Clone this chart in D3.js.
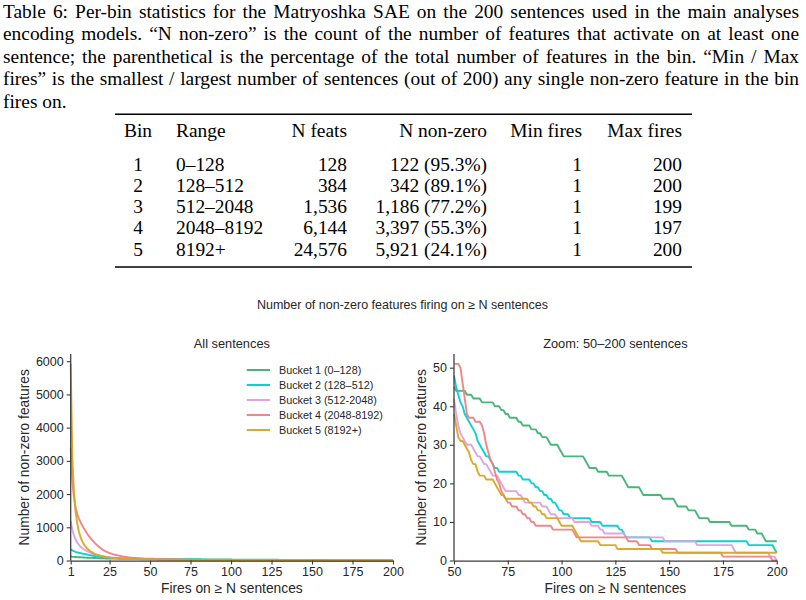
<!DOCTYPE html>
<html lang="en">
<head>
<meta charset="UTF-8">
<title>Per-bin statistics, Matryoshka SAE</title>
<script src="https://d3js.org/d3.v7.min.js"></script>
<style>
  body { margin: 0; background: #fff; }
  .serif text { font-family: "Liberation Serif", "Times New Roman", serif; fill: #000; }
  .chart text { font-family: "Liberation Sans", Arial, Helvetica, sans-serif; fill: #262626; }
</style>
</head>
<body>
<script>
// ---------- caption + table ----------
const captionLines = [
  "Table 6: Per-bin statistics for the Matryoshka SAE on the 200 sentences used in the main analyses",
  "encoding models. \u201CN non-zero\u201D is the count of the number of features that activate on at least one",
  "sentence; the parenthetical is the percentage of the total number of features in the bin. \u201CMin / Max",
  "fires\u201D is the smallest / largest number of sentences (out of 200) any single non-zero feature in the bin",
  "fires on."
];
const tableHeader = ["Bin", "Range", "N feats", "N non-zero", "Min fires", "Max fires"];
const bins      = ["1", "2", "3", "4", "5"];
const ranges    = ["0\u2013128", "128\u2013512", "512\u20132048", "2048\u20138192", "8192+"];
const nFeats    = ["128", "384", "1,536", "6,144", "24,576"];
const nNonZero  = ["122 (95.3%)", "342 (89.1%)", "1,186 (77.2%)", "3,397 (55.3%)", "5,921 (24.1%)"];
const minFires  = ["1", "1", "1", "1", "1"];
const maxFires  = ["200", "200", "199", "197", "200"];

// ---------- chart data: features firing on >= N sentences, N = 1..200 ----------
const bucketNames = ["Bucket 1 (0\u2013128)", "Bucket 2 (128\u2013512)", "Bucket 3 (512-2048)",
                     "Bucket 4 (2048-8192)", "Bucket 5 (8192+)"];
const bucketColors = ["#3cb371", "#00ced1", "#dda0dd", "#f08080", "#daa520"];

const bucket1 = [
  122,115,110,106,102,99,96,93,90,87,      // 1-10
  85,82,80,78,76,74,72,70,68,67,
  65,64,62,61,60,59,58,57,56,55,
  54,53,52,52,51,50,50,49,49,48,
  48,47,47,47,46,46,46,45,45,45,           // 41-50
  44,44,44,44,44,43,43,43,42,42,
  42,42,41,41,41,41,41,41,40,40,
  40,39,39,38,38,37,37,37,37,36,
  36,35,35,35,35,34,34,34,33,33,
  32,32,32,31,30,30,30,30,29,28,           // 91-100
  27,27,27,27,27,27,27,27,27,27,
  26,25,24,24,24,24,23,23,23,23,
  23,22,22,22,22,22,22,22,21,20,
  19,19,19,19,19,19,18,17,17,17,
  17,17,17,17,17,17,16,16,16,16,           // 141-150
  16,16,15,14,14,14,14,14,13,13,
  13,13,12,11,11,11,11,11,10,10,
  10,10,10,10,10,10,10,10,9,9,
  9,9,9,9,9,9,8,8,8,8,
  7,7,7,6,5,5,5,5,5,5                      // 191-200
];
const bucket2 = [
  342,305,280,262,247,233,221,210,200,190,
  180,170,160,151,142,134,126,118,111,105,
  99,94,89,85,81,78,75,72,70,68,
  66,64,62,61,60,59,58,57,56,55,
  54,53,52,52,51,50,50,49,49,48,
  45,43,41,40,38,37,36,35,34,33,
  31,30,29,28,27,27,26,25,24,24,
  23,23,23,23,23,23,23,23,23,22,
  22,21,21,21,21,20,20,19,19,18,
  18,17,17,16,16,15,15,14,13,13,
  12,12,12,11,11,11,11,11,11,11,
  11,11,11,10,10,10,10,10,9,9,
  9,9,9,9,9,9,8,8,7,6,
  6,6,6,6,6,6,6,6,6,6,
  6,5,5,5,5,5,5,5,5,5,
  5,5,5,5,5,5,5,5,5,5,
  5,5,5,5,5,5,5,5,5,5,
  5,5,5,5,5,5,5,5,5,5,
  5,5,5,5,5,5,4,4,4,4,
  4,4,4,4,4,4,4,4,3,2
];
const bucket3 = [
  1186,920,760,640,545,475,420,375,340,310,
  283,260,240,220,203,188,174,161,150,139,
  129,120,112,105,99,93,88,83,79,75,
  71,68,65,62,60,58,56,54,52,51,
  50,49,48,47,46,45,44,43,43,42,
  38,35,33,32,31,30,30,30,29,28,
  27,27,26,25,25,24,23,22,22,22,
  21,20,19,18,18,18,18,18,18,17,
  17,16,15,15,15,15,15,15,15,15,
  14,14,14,13,12,12,12,11,11,11,
  11,11,11,11,11,10,10,10,10,10,
  10,10,10,9,9,9,9,8,8,7,
  7,7,7,7,7,7,7,7,7,6,
  6,6,6,6,6,6,6,6,6,6,
  6,6,6,6,6,6,6,5,5,5,
  5,5,5,5,5,5,5,5,5,5,
  5,5,4,4,4,4,4,4,4,4,
  4,4,4,4,4,4,4,4,4,3,
  2,2,2,2,2,2,2,2,2,2,
  2,2,2,2,2,2,1,1,1,0
];
const bucket4 = [
  3397,2400,1900,1600,1400,1270,1160,1070,980,900,
  820,750,690,630,575,520,475,430,390,355,
  320,290,265,243,225,208,192,178,165,153,
  142,132,123,115,107,100,94,88,83,78,
  74,70,66,63,60,58,56,54,52,51,
  51,51,50,46,42,38,37,37,37,36,
  36,36,35,33,30,28,26,25,23,21,
  20,18,17,16,15,15,14,14,14,13,
  13,12,12,11,11,10,10,9,9,9,
  9,9,9,9,9,8,8,8,8,8,
  8,8,8,8,8,7,6,6,6,6,
  6,6,6,6,6,6,6,6,6,6,
  6,6,6,6,6,6,6,6,6,6,
  5,5,5,5,5,4,4,4,4,4,
  4,3,3,3,3,3,3,3,3,3,
  3,3,3,2,2,2,2,2,2,2,
  2,2,2,2,2,2,2,2,2,2,
  2,2,2,2,1,1,1,1,1,1,
  1,1,1,1,1,1,1,1,1,1,
  1,1,1,1,1,1,1,0,0,0
];
const bucket5 = [
  5921,3150,2050,1480,1130,880,720,590,500,430,
  370,325,285,250,222,198,178,160,145,132,
  120,110,101,93,86,80,75,70,66,62,
  59,56,53,51,49,47,46,44,43,42,
  41,40,40,39,39,38,38,38,38,38,
  35,32,31,31,30,29,28,26,25,25,
  23,22,22,22,21,21,21,21,20,19,
  18,17,17,16,16,16,16,16,16,16,
  16,16,16,16,15,15,14,14,13,13,
  12,12,11,11,11,11,11,11,10,9,
  9,9,9,9,9,8,7,6,5,5,
  5,5,5,5,5,5,5,4,4,4,
  4,4,4,4,4,3,3,3,3,3,
  3,3,3,3,3,3,3,3,3,3,
  3,3,3,3,3,3,2,2,2,2,
  2,2,2,2,2,2,2,2,2,2,
  2,2,2,2,2,2,2,2,2,2,
  2,2,2,2,2,2,2,2,2,2,
  2,2,2,2,2,2,2,2,2,2,
  2,2,2,2,2,2,2,2,2,2
];
const buckets = [bucket1, bucket2, bucket3, bucket4, bucket5];

const xTicksAll = [1, 25, 50, 75, 100, 125, 150, 175, 200];
const yTicksAll = [0, 1000, 2000, 3000, 4000, 5000, 6000];
const xTicksZoom = [50, 75, 100, 125, 150, 175, 200];
const yTicksZoom = [0, 10, 20, 30, 40, 50];

// ---------- svg ----------
const W = 806, H = 600;
const svg = d3.select("body").append("svg")
  .attr("width", W).attr("height", H)
  .attr("viewBox", `0 0 ${W} ${H}`);

// ---------- caption (justified) ----------
const cap = svg.append("g").attr("class", "serif");
const capX0 = 3, capX1 = 799, capSize = 19.4;
captionLines.forEach((line, li) => {
  const yy = 17.7 + li * 22.5;
  const words = line.split(" ");
  const nodes = words.map(w => cap.append("text")
    .attr("y", yy).attr("font-size", capSize).text(w));
  const widths = nodes.map(n => n.node().getComputedTextLength());
  const total = d3.sum(widths);
  const last = li === captionLines.length - 1;
  const gap = last ? capSize * 0.25 : (capX1 - capX0 - total) / (words.length - 1);
  let cx = capX0;
  nodes.forEach((n, i) => { n.attr("x", cx); cx += widths[i] + gap; });
});

// ---------- table ----------
const tbl = svg.append("g").attr("class", "serif");
const tblSize = 19.4;
// column anchor x and alignment
const cols = [
  {x: 138, anchor: "middle", vals: bins},
  {x: 176, anchor: "start",  vals: ranges},
  {x: 347, anchor: "end",    vals: nFeats},
  {x: 487, anchor: "end",    vals: nNonZero},
  {x: 582, anchor: "end",    vals: minFires},
  {x: 682, anchor: "end",    vals: maxFires}
];
tbl.append("line").attr("x1", 115).attr("x2", 692).attr("y1", 114.3).attr("y2", 114.3)
  .attr("stroke", "#000").attr("stroke-width", 1.4);
tbl.append("line").attr("x1", 115).attr("x2", 692).attr("y1", 267).attr("y2", 267)
  .attr("stroke", "#000").attr("stroke-width", 1.4);
cols.forEach((c, ci) => {
  tbl.append("text").attr("x", c.x).attr("y", 137.3)
    .attr("text-anchor", c.anchor).attr("font-size", tblSize).text(tableHeader[ci]);
  c.vals.forEach((v, ri) => {
    tbl.append("text").attr("x", c.x).attr("y", 170.7 + ri * 21.25)
      .attr("text-anchor", c.anchor).attr("font-size", tblSize).text(v);
  });
});

// ---------- charts ----------
const chart = svg.append("g").attr("class", "chart");
const plotTop = 354, plotBottom = 560.5;

chart.append("text").attr("x", 402.5).attr("y", 309)
  .attr("text-anchor", "middle").attr("font-size", 12.5)
  .text("Number of non-zero features firing on \u2265 N sentences");

function panel(opts) {
  const x = d3.scaleLinear().domain(opts.xDomain).range([opts.left, opts.right]);
  const y = d3.scaleLinear().domain(opts.yDomain).range([plotBottom, plotTop]);
  const g = chart.append("g");

  const line = d3.line()
    .x(d => x(d[0]))
    .y(d => y(d[1]));

  buckets.forEach((b, bi) => {
    const pts = b.map((v, i) => [i + 1, v]).filter(d => d[0] >= opts.xDomain[0]);
    g.append("path")
      .attr("d", line(pts))
      .attr("fill", "none")
      .attr("stroke", bucketColors[bi])
      .attr("stroke-width", 1.9)
      .attr("stroke-linejoin", "round")
      .attr("opacity", 0.95);
  });

  const xa = g.append("g").attr("transform", `translate(0,${plotBottom})`)
    .call(d3.axisBottom(x).tickValues(opts.xTicks).tickFormat(d3.format("d"))
      .tickSize(4).tickSizeOuter(0).tickPadding(3));
  const ya = g.append("g").attr("transform", `translate(${opts.left},0)`)
    .call(d3.axisLeft(y).tickValues(opts.yTicks).tickFormat(d3.format("d"))
      .tickSize(4).tickSizeOuter(0).tickPadding(3));
  [xa, ya].forEach(a => {
    a.attr("font-family", null).attr("font-size", null);
    a.select(".domain").attr("stroke", "#3a3a3a").attr("stroke-width", 1.25);
    a.selectAll(".tick line").attr("stroke", "#3a3a3a").attr("stroke-width", 1.1);
    a.selectAll(".tick text").attr("font-size", 12.5).attr("fill", "#262626");
  });
  // the left spine runs to the top of the axes box
  ya.select(".domain").attr("d", `M0,${plotBottom}V${plotTop}`);

  const cx = (opts.left + opts.right) / 2;
  g.append("text").attr("x", cx).attr("y", 348)
    .attr("text-anchor", "middle").attr("font-size", 12.8).text(opts.title);
  g.append("text").attr("x", cx).attr("y", 593)
    .attr("text-anchor", "middle").attr("font-size", 13.8).text("Fires on \u2265 N sentences");
  g.append("text")
    .attr("transform", `translate(${opts.ylabX},${(plotTop + plotBottom) / 2}) rotate(-90)`)
    .attr("text-anchor", "middle").attr("dy", "0.35em").attr("font-size", 13.8)
    .text("Number of non-zero features");
  return g;
}

const gAll = panel({
  left: 70.7, right: 393, xDomain: [1, 200], yDomain: [0, 5921 * 1.05],
  xTicks: xTicksAll, yTicks: yTicksAll, title: "All sentences", ylabX: 24
});
panel({
  left: 454, right: 776.7, xDomain: [50, 200], yDomain: [0, 51 * 1.05],
  xTicks: xTicksZoom, yTicks: yTicksZoom, title: "Zoom: 50\u2013200 sentences", ylabX: 421.5
});

// legend in the left panel
const leg = gAll.append("g");
bucketNames.forEach((name, i) => {
  const ly = 370 + i * 15;
  leg.append("line").attr("x1", 246.7).attr("x2", 270).attr("y1", ly).attr("y2", ly)
    .attr("stroke", bucketColors[i]).attr("stroke-width", 1.9);
  leg.append("text").attr("x", 279).attr("y", ly).attr("dy", "0.35em")
    .attr("font-size", 10.8).text(name);
});
</script>
</body>
</html>
